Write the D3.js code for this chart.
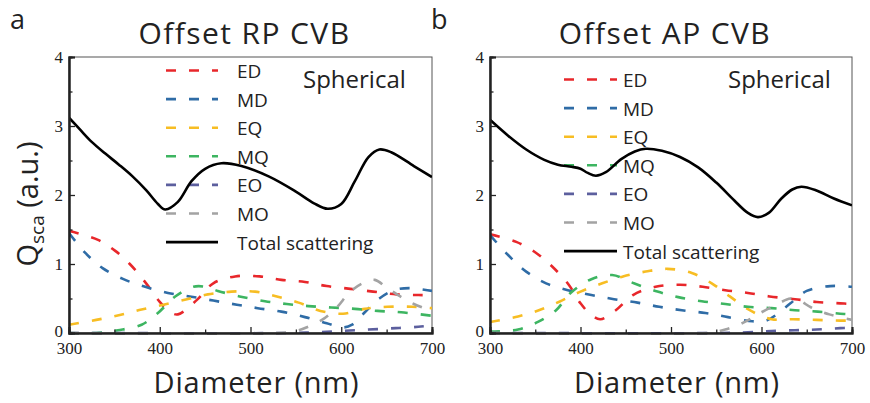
<!DOCTYPE html>
<meta charset="utf-8">
<style>
body { margin: 0; background: #fff; }
svg { display: block; }
.tick text { font-family: "Liberation Serif", serif; font-size: 17px; fill: #222; }
.sans { font-family: "Open Sans", sans-serif; fill: #222; }
</style>
<svg width="870" height="403"></svg>
<script src="https://cdn.jsdelivr.net/npm/d3@7"></script>
<script>
// ---- data (diameter nm, Q) ----
var xTicks = [300, 400, 500, 600, 700];
var yTicks = [0, 1, 2, 3, 4];
var names = ["ED", "MD", "EQ", "MQ", "EO", "MO"];
var colors = ["#e8272b", "#2f6ca6", "#f7bd23", "#3db561", "#5c5f9e", "#a3a3a3"];

// offset RP CVB
var rpTotal = [[300,3.12],[312,2.95],[325,2.77],[340,2.6],[355,2.44],[370,2.27],[385,2.07],[398,1.87],[406,1.79],[420,1.9],[435,2.2],[450,2.38],[468,2.46],[490,2.42],[520,2.27],[550,2.05],[570,1.88],[585,1.80],[600,1.87],[615,2.2],[630,2.55],[642,2.66],[655,2.62],[680,2.42],[700,2.26]];
var rpED = [[300,1.48],[332,1.35],[351,1.19],[367,1.0],[385,0.72],[400,0.45],[412,0.3],[420,0.27],[441,0.48],[459,0.72],[483,0.82],[510,0.82],[534,0.77],[560,0.74],[584,0.68],[610,0.64],[635,0.60],[661,0.56],[685,0.55],[700,0.55]];
var rpMD = [[300,1.45],[318,1.16],[337,0.94],[360,0.78],[384,0.67],[409,0.58],[433,0.53],[459,0.47],[485,0.41],[508,0.36],[534,0.31],[560,0.23],[584,0.14],[602,0.08],[612,0.12],[626,0.3],[642,0.5],[658,0.62],[675,0.65],[700,0.61]];
var rpEQ = [[300,0.12],[330,0.19],[356,0.26],[380,0.34],[404,0.41],[430,0.49],[453,0.56],[479,0.60],[505,0.60],[529,0.53],[553,0.44],[577,0.32],[602,0.28],[626,0.35],[651,0.38],[678,0.38],[700,0.36]];
var rpMQ = [[300,0],[330,0],[354,0.04],[380,0.12],[398,0.29],[417,0.53],[437,0.67],[450,0.67],[464,0.61],[488,0.53],[516,0.46],[540,0.42],[564,0.39],[589,0.37],[615,0.35],[640,0.32],[666,0.30],[700,0.25]];
var rpEO = [[300,0],[540,0],[570,0.01],[600,0.03],[630,0.05],[660,0.07],[685,0.09],[700,0.11]];
var rpMO = [[300,0],[530,0],[550,0.03],[565,0.1],[580,0.2],[595,0.37],[610,0.6],[625,0.73],[637,0.77],[650,0.66],[665,0.53],[680,0.42],[700,0.32]];

// offset AP CVB
var apTotal = [[300,3.09],[320,2.86],[340,2.66],[360,2.51],[375,2.44],[390,2.41],[400,2.38],[408,2.32],[417,2.28],[428,2.33],[445,2.52],[460,2.63],[472,2.67],[490,2.64],[510,2.55],[530,2.4],[550,2.18],[570,1.92],[585,1.74],[596,1.68],[608,1.74],[622,1.95],[634,2.08],[644,2.12],[660,2.07],[680,1.95],[700,1.85]];
var apED = [[300,1.43],[329,1.32],[351,1.16],[369,0.96],[387,0.70],[400,0.43],[412,0.26],[422,0.2],[439,0.33],[458,0.55],[483,0.67],[510,0.70],[535,0.67],[560,0.62],[585,0.58],[609,0.53],[637,0.49],[661,0.45],[687,0.43],[700,0.42]];
var apMD = [[300,1.42],[320,1.13],[340,0.89],[362,0.72],[386,0.62],[412,0.55],[437,0.49],[463,0.44],[487,0.38],[512,0.33],[538,0.29],[563,0.23],[590,0.17],[605,0.18],[618,0.28],[632,0.43],[650,0.61],[676,0.68],[700,0.67]];
var apEQ = [[300,0.16],[331,0.24],[354,0.33],[376,0.45],[400,0.60],[424,0.72],[447,0.82],[472,0.89],[496,0.93],[523,0.87],[545,0.72],[565,0.53],[587,0.33],[611,0.20],[635,0.20],[661,0.19],[687,0.18],[700,0.18]];
var apMQ = [[300,0.02],[331,0.05],[353,0.16],[373,0.33],[389,0.58],[412,0.78],[435,0.84],[459,0.72],[485,0.60],[508,0.52],[534,0.46],[560,0.42],[585,0.38],[611,0.36],[637,0.33],[662,0.31],[687,0.28],[700,0.27]];
var apEO = [[300,0],[555,0],[585,0.01],[611,0.03],[637,0.04],[661,0.05],[687,0.07],[700,0.08]];
var apMO = [[300,0],[540,0],[560,0.05],[580,0.15],[600,0.3],[615,0.4],[632,0.5],[642,0.47],[655,0.37],[675,0.27],[700,0.19]];

var panels = [
  {letter: "a", title: "Offset RP CVB", total: rpTotal, modes: [rpED, rpMD, rpEQ, rpMQ, rpEO, rpMO],
   x0: 69, x1: 432, legX0: 166, legX1: 218, legText: 237, legY: 70.5, sphX: 303},
  {letter: "b", title: "Offset AP CVB", total: apTotal, modes: [apED, apMD, apEQ, apMQ, apEO, apMO],
   x0: 490, x1: 852, legX0: 564, legX1: 617, legText: 623, legY: 79.5, sphX: 728}
];

var svg = d3.select("svg");
var top0 = 57, bot0 = 333, rowH = 28.6;

panels.forEach(function(p, pi) {
  var x = d3.scaleLinear().domain([300, 700]).range([p.x0, p.x1]);
  var y = d3.scaleLinear().domain([0, 4]).range([bot0, top0]);
  var g = svg.append("g");

  // frame
  g.append("rect").attr("x", p.x0).attr("y", top0)
    .attr("width", p.x1 - p.x0).attr("height", bot0 - top0)
    .attr("fill", "none").attr("stroke", "#555").attr("stroke-width", 1);

  // legend (drawn under the curves)
  var leg = g.append("g");
  names.forEach(function(n, i) {
    var ly = p.legY + i * rowH;
    leg.append("line").attr("x1", p.legX0).attr("x2", p.legX1).attr("y1", ly).attr("y2", ly)
      .attr("stroke", colors[i]).attr("stroke-width", 2.6).attr("stroke-dasharray", "10,13");
    leg.append("text").attr("class", "sans").attr("x", p.legText).attr("y", ly + 7.5)
      .attr("font-size", 19).text(n);
  });
  var ty = p.legY + 6 * rowH;
  leg.append("line").attr("x1", p.legX0).attr("x2", p.legX1).attr("y1", ty).attr("y2", ty)
    .attr("stroke", "#000").attr("stroke-width", 2.6);
  leg.append("text").attr("class", "sans").attr("x", p.legText).attr("y", ty + 7.5)
    .attr("font-size", 19).text("Total scattering");

  // curves
  var clipId = "clip" + pi;
  svg.append("clipPath").attr("id", clipId).append("rect")
    .attr("x", p.x0).attr("y", top0).attr("width", p.x1 - p.x0).attr("height", bot0 - top0 + 2);
  var line = d3.line().x(function(d) { return x(d[0]); }).y(function(d) { return y(d[1]); })
    .curve(d3.curveCatmullRom.alpha(0.5));
  var cg = g.append("g").attr("clip-path", "url(#" + clipId + ")");
  p.modes.forEach(function(m, i) {
    cg.append("path").datum(m).attr("d", line).attr("fill", "none")
      .attr("stroke", colors[i]).attr("stroke-width", 2.6).attr("stroke-dasharray", "10,13");
  });
  cg.append("path").datum(p.total).attr("d", line).attr("fill", "none")
    .attr("stroke", "#000").attr("stroke-width", 2.6);

  // axes, ticks inward
  var ax = g.append("g").attr("transform", "translate(0," + bot0 + ")")
    .call(d3.axisBottom(x).tickValues(xTicks).tickSize(-6).tickPadding(10).tickFormat(d3.format("d")));
  g.append("g").attr("transform", "translate(0," + bot0 + ")")
    .call(d3.axisBottom(x).tickValues([350, 450, 550, 650]).tickSize(-3.5).tickFormat(""));
  var ay = g.append("g").attr("transform", "translate(" + p.x0 + ",0)")
    .call(d3.axisLeft(y).tickValues(yTicks).tickSize(-6).tickPadding(6).tickFormat(d3.format("d")));
  g.append("g").attr("transform", "translate(" + p.x0 + ",0)")
    .call(d3.axisLeft(y).tickValues([0.5, 1.5, 2.5, 3.5]).tickSize(-3.5).tickFormat(""));
  g.selectAll(".domain").attr("stroke", "#222").attr("stroke-width", 2);
  g.selectAll(".tick line").attr("stroke", "#222").attr("stroke-width", 1.3);
  ax.selectAll(".tick text").attr("dy", "0.65em");
  ay.selectAll(".tick text").attr("dy", function(d) { return d === 0 ? "0.2em" : "0.3em"; });

  // texts
  g.append("text").attr("class", "sans").attr("x", p.x0 - 59).attr("y", 29)
    .attr("font-size", 27).text(p.letter);
  g.append("text").attr("class", "sans").attr("x", (p.x0 + p.x1) / 2 - 6).attr("y", 44)
    .attr("text-anchor", "middle").attr("font-size", 30).attr("letter-spacing", 1.4).text(p.title);
  g.append("text").attr("class", "sans").attr("x", p.sphX).attr("y", 88)
    .attr("font-size", 24).text("Spherical");
  g.append("text").attr("class", "sans").attr("x", (p.x0 + p.x1) / 2 + 6).attr("y", 393)
    .attr("text-anchor", "middle").attr("font-size", 29).attr("letter-spacing", 0.8).text("Diameter (nm)");
});

// y label for panel a
var yl = svg.append("text").attr("class", "sans").attr("font-size", 29)
  .attr("text-anchor", "middle").attr("transform", "translate(38,204) rotate(-90)");
yl.append("tspan").text("Q");
yl.append("tspan").attr("font-size", 19).attr("dy", 6).text("sca");
yl.append("tspan").attr("dy", -6).text(" (a.u.)");
</script>
